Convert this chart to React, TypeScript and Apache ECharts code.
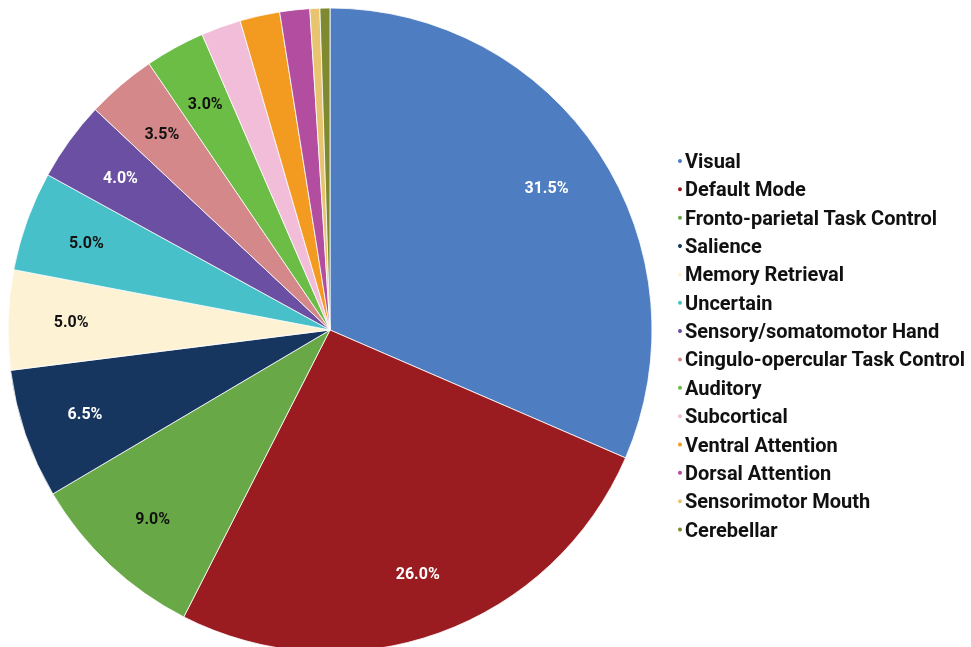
import React, { useEffect, useRef } from "react";
import * as echarts from "echarts";

const categories = [
  "Visual",
  "Default Mode",
  "Fronto-parietal Task Control",
  "Salience",
  "Memory Retrieval",
  "Uncertain",
  "Sensory/somatomotor Hand",
  "Cingulo-opercular Task Control",
  "Auditory",
  "Subcortical",
  "Ventral Attention",
  "Dorsal Attention",
  "Sensorimotor Mouth",
  "Cerebellar",
];
const values = [31.5, 26.0, 9.0, 6.5, 5.0, 5.0, 4.0, 3.5, 3.0, 2.0, 2.0, 1.5, 0.5, 0.5];
const colors = [
  "#4f7dc1",
  "#9a1c20",
  "#68a847",
  "#17365f",
  "#fdf3d4",
  "#48c0c9",
  "#6a4fa3",
  "#d4888a",
  "#6bbd45",
  "#f1bdd8",
  "#f39a21",
  "#b24d9f",
  "#e8c370",
  "#7f8a30",
];
const labelColors = [
  "#ffffff", "#ffffff", "#111111", "#ffffff", "#111111", "#111111", "#ffffff",
  "#111111", "#111111", "#111111", "#111111", "#111111", "#111111", "#111111",
];
const labelMin = 3.0;

export default function App() {
  const ref = useRef<HTMLDivElement>(null);
  useEffect(() => {
    if (!ref.current) return;
    const chart = echarts.init(ref.current, null, { renderer: "svg" });
    const data = categories.map((name, i) => ({
      name,
      value: values[i],
      itemStyle: { color: colors[i] },
    }));
    const labelData = categories.map((name, i) => ({
      name,
      value: values[i],
      itemStyle: { color: "rgba(0,0,0,0)" },
      label: {
        show: values[i] >= labelMin,
        color: labelColors[i],
      },
    }));
    chart.setOption({
      animation: false,
      legend: {
        orient: "vertical",
        left: 671,
        top: 146,
        itemGap: 8.35,
        itemWidth: 6,
        itemHeight: 6,
        icon: "circle",
        textStyle: {
          fontFamily: "Roboto",
          fontWeight: "bold",
          fontSize: 20,
          lineHeight: 20,
          color: "#111111",
          padding: [0, 0, 0, -3],
        },
        data: categories,
      },
      series: [
        {
          type: "pie",
          center: [330, 330],
          radius: [0, 322],
          startAngle: 90,
          clockwise: true,
          data,
          label: { show: false },
          labelLine: { show: false },
          itemStyle: { borderColor: "#ffffff", borderWidth: 0.8 },
          emphasis: { disabled: true },
        },
        {
          type: "pie",
          center: [330, 330],
          radius: [190, 322],
          startAngle: 90,
          clockwise: true,
          silent: true,
          data: labelData,
          label: {
            position: "inside",
            formatter: (p: any) => p.value.toFixed(1) + "%",
            fontFamily: "Roboto",
            fontWeight: "bold",
            fontSize: 16,
          },
          labelLine: { show: false },
          emphasis: { disabled: true },
        },
      ],
    });
    return () => chart.dispose();
  }, []);
  return (
    <div
      ref={ref}
      style={{ position: "fixed", left: 0, top: 0, width: 971, height: 647 }}
    />
  );
}
